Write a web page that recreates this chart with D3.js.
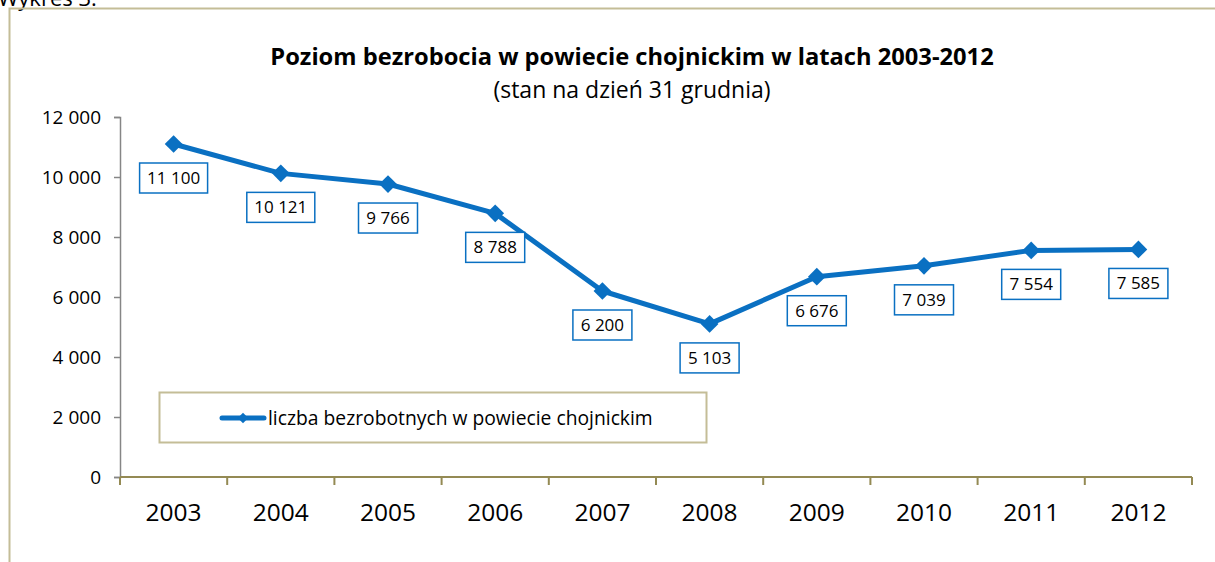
<!DOCTYPE html>
<html>
<head>
<meta charset="utf-8">
<script src="https://cdn.jsdelivr.net/npm/d3@7"></script>
<style>
  body { margin: 0; background: #fff; }
  svg { display: block; font-family: "Open Sans", Lato, sans-serif; }
</style>
</head>
<body>
<div id="chart-area"></div>
<script>
// data
var years = ["2003", "2004", "2005", "2006", "2007", "2008", "2009", "2010", "2011", "2012"];
var unemployed = [11100, 10121, 9766, 8788, 6200, 5103, 6676, 7039, 7554, 7585];
var yTicks = [0, 2000, 4000, 6000, 8000, 10000, 12000];

var width = 1215, height = 562;
var blue = "#0a70c2";

var svg = d3.select("#chart-area")
    .append("svg")
    .attr("width", width)
    .attr("height", height);

// caption above the frame (cut off at top)
svg.append("text")
    .attr("x", -2)
    .attr("y", 6)
    .attr("font-size", "22px")
    .attr("fill", "#000")
    .text("Wykres 3.");

// outer frame
svg.append("path")
    .attr("d", "M9.5,562 V8.5 H1220")
    .attr("fill", "none")
    .attr("stroke", "#c4bd97")
    .attr("stroke-width", 2);

// title
svg.append("text")
    .attr("x", 632)
    .attr("y", 65)
    .attr("text-anchor", "middle")
    .attr("font-size", "23.7px")
    .attr("font-weight", "bold")
    .text("Poziom bezrobocia w powiecie chojnickim w latach 2003-2012");

svg.append("text")
    .attr("x", 632)
    .attr("y", 98)
    .attr("text-anchor", "middle")
    .attr("font-size", "23px")
    .text("(stan na dzień 31 grudnia)");

// scales
var x = d3.scaleBand()
    .domain(years)
    .range([120, 1192]);

var y = d3.scaleLinear()
    .domain([0, 12000])
    .range([477, 117]);

var fmt = function (v) {
    return d3.format(",")(v).replace(/,/g, " ");
};

// y axis
var yAxis = svg.append("g")
    .attr("transform", "translate(120,0)")
    .call(d3.axisLeft(y).tickValues(yTicks).tickSize(6).tickFormat(fmt));
yAxis.select(".domain").attr("stroke", "#868686").attr("stroke-width", 1.5);
yAxis.selectAll(".tick line").attr("stroke", "#868686").attr("stroke-width", 1.5);
yAxis.selectAll("text")
    .attr("x", -19)
    .attr("font-size", "19px")
    .attr("font-family", "'Open Sans', sans-serif")
    .attr("fill", "#000");

// x axis with ticks between categories
var xAxis = svg.append("g")
    .attr("transform", "translate(0,477)");
xAxis.append("line")
    .attr("x1", 120).attr("x2", 1192)
    .attr("stroke", "#948a54").attr("stroke-width", 2);
xAxis.selectAll("line.tk")
    .data(years.concat(["end"]))
    .enter()
    .append("line")
    .attr("class", "tk")
    .attr("x1", function (d, i) { return 120 + i * x.step(); })
    .attr("x2", function (d, i) { return 120 + i * x.step(); })
    .attr("y1", 0).attr("y2", 8)
    .attr("stroke", "#948a54").attr("stroke-width", 2);
xAxis.selectAll("text")
    .data(years)
    .enter()
    .append("text")
    .attr("x", function (d) { return x(d) + x.bandwidth() / 2; })
    .attr("y", 44)
    .attr("text-anchor", "middle")
    .attr("font-size", "24.5px")
    .text(function (d) { return d; });

// legend
var legend = svg.append("g");
legend.append("rect")
    .attr("x", 159.5).attr("y", 392.5)
    .attr("width", 547).attr("height", 50)
    .attr("fill", "#fff")
    .attr("stroke", "#c4bd97")
    .attr("stroke-width", 2);
legend.append("line")
    .attr("x1", 222).attr("x2", 264)
    .attr("y1", 418).attr("y2", 418)
    .attr("stroke", blue).attr("stroke-width", 5)
    .attr("stroke-linecap", "round");
legend.append("path")
    .attr("d", d3.symbol(d3.symbolDiamond2, 70)())
    .attr("transform", "translate(243,418)")
    .attr("fill", blue);
legend.append("text")
    .attr("x", 268)
    .attr("y", 425)
    .attr("font-size", "19.3px")
    .text("liczba bezrobotnych w powiecie chojnickim");

// series line
var cx = function (d, i) { return x(years[i]) + x.bandwidth() / 2; };
var line = d3.line()
    .x(cx)
    .y(function (d) { return y(d); });

svg.append("path")
    .datum(unemployed)
    .attr("d", line)
    .attr("fill", "none")
    .attr("stroke", blue)
    .attr("stroke-width", 5)
    .attr("stroke-linejoin", "round");

svg.selectAll("path.marker")
    .data(unemployed)
    .enter()
    .append("path")
    .attr("class", "marker")
    .attr("d", d3.symbol(d3.symbolDiamond2, 200)())
    .attr("transform", function (d, i) {
        return "translate(" + cx(d, i) + "," + y(d) + ")";
    })
    .attr("fill", blue);

// data labels
var labels = svg.selectAll("g.lbl")
    .data(unemployed)
    .enter()
    .append("g")
    .attr("class", "lbl")
    .attr("transform", function (d, i) {
        return "translate(" + cx(d, i) + "," + (y(d) + 34) + ")";
    });
labels.append("rect")
    .attr("x", function (d) { return d >= 10000 ? -34 : -29.5; })
    .attr("y", -15)
    .attr("width", function (d) { return d >= 10000 ? 68 : 59; })
    .attr("height", 30)
    .attr("fill", "#fff")
    .attr("stroke", blue)
    .attr("stroke-width", 1.5);
labels.append("text")
    .attr("text-anchor", "middle")
    .attr("y", 6)
    .attr("font-size", "17px")
    .text(fmt);
</script>
</body>
</html>
